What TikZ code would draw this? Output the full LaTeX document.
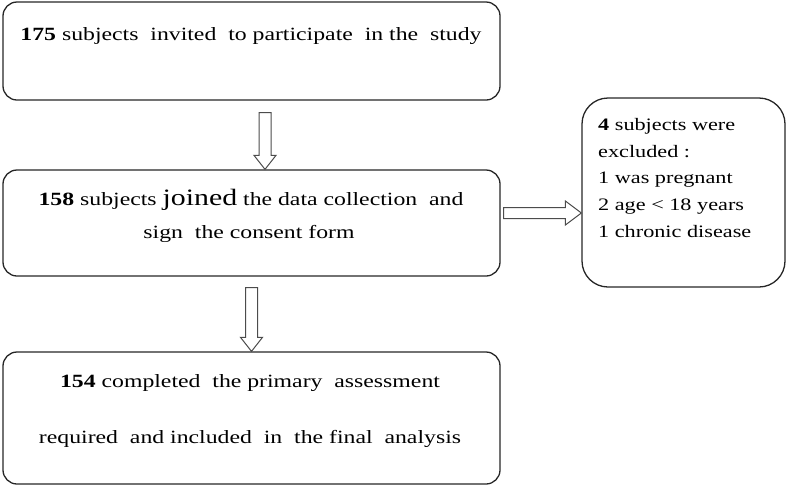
\documentclass[tikz,border=0pt]{standalone}
\usepackage{fontspec}
\usepackage{graphicx}
\setmainfont{Liberation Serif}
\usetikzlibrary{calc}
\newcommand\widetxt[1]{\scalebox{1.27}[1]{#1}}
\tikzset{
  box/.style={draw=black!85, line width=1.3pt, rounded corners=14pt, inner sep=0pt},
  arrowline/.style={draw=black!70, line width=1pt, fill=white, line join=miter},
  txt/.style={anchor=base, inner sep=0pt, font=\fontsize{18.7}{22}\selectfont},
  sidetxt/.style={anchor=base west, inner sep=0pt, font=\fontsize{17.5}{20}\selectfont},
}
\newcommand\vblockarrow[2]{%
  \draw[arrowline] ($(#1)+(-6,0)$) -- ($(#2)+(-6,-14)$) -- ($(#2)+(-11,-14)$) -- (#2)
    -- ($(#2)+(11,-14)$) -- ($(#2)+(6,-14)$) -- ($(#1)+(6,0)$) -- cycle;}
\newcommand\hblockarrow[2]{%
  \draw[arrowline] ($(#1)+(0,-5.5)$) -- ($(#2)+(-16,-5.5)$) -- ($(#2)+(-16,-12)$) -- (#2)
    -- ($(#2)+(-16,12)$) -- ($(#2)+(-16,5.5)$) -- ($(#1)+(0,5.5)$) -- cycle;}
\begin{document}
\begin{tikzpicture}[x=1pt,y=-1pt]
\useasboundingbox (0,0) rectangle (787,488);
% boxes
\node[box, minimum width=497pt, minimum height=98pt] (b1) at (251.5,51) {};
\node[box, minimum width=497pt, minimum height=106pt] (b2) at (251.5,223) {};
\node[box, minimum width=497pt, minimum height=132pt] (b3) at (251.5,418) {};
\node[box, rounded corners=26pt, minimum width=203pt, minimum height=189pt] (b4) at (683.5,192.5) {};
% texts
\node[txt] (t1) at (251,40) {\widetxt{\textbf{175} subjects\ \ invited\ \ to participate\ \ in the\ \ study}};
\node[txt] (t2a) at (251,205) {\widetxt{\textbf{158} subjects {\fontsize{23.5}{26}\selectfont joined} the\ data collection\ \ and}};
\node[txt] (t2b) at (249,238) {\widetxt{sign\ \ the consent\ form}};
\node[txt] (t3a) at (250,387) {\widetxt{\textbf{154} completed\ \ the primary\ \ assessment}};
\node[txt] (t3b) at (250,443) {\widetxt{required\ \ and included\ \ in\ \ the final\ \ analysis}};
\node[sidetxt] (t4a) at (598,130) {\widetxt{\textbf{4} subjects were}};
\node[sidetxt] (t4b) at (598,157) {\widetxt{excluded :}};
\node[sidetxt] (t4c) at (598,183) {\widetxt{1 was pregnant}};
\node[sidetxt] (t4d) at (598,210) {\widetxt{2 age < 18 years}};
\node[sidetxt] (t4e) at (598,237) {\widetxt{1 chronic disease}};
% arrows
\coordinate (a1s) at ($(b1.south)+(13.5,12)$);
\coordinate (a1e) at ($(b2.north)+(13.5,0)$);
\vblockarrow{a1s}{a1e}
\coordinate (a2s) at ($(b2.south)+(0,11)$);
\coordinate (a2e) at (b3.north);
\vblockarrow{a2s}{a2e}
\coordinate (a3s) at ($(b2.east)+(3,-10)$);
\coordinate (a3e) at ($(b4.west)+(0,20.5)$);
\hblockarrow{a3s}{a3e}
\end{tikzpicture}
\end{document}
